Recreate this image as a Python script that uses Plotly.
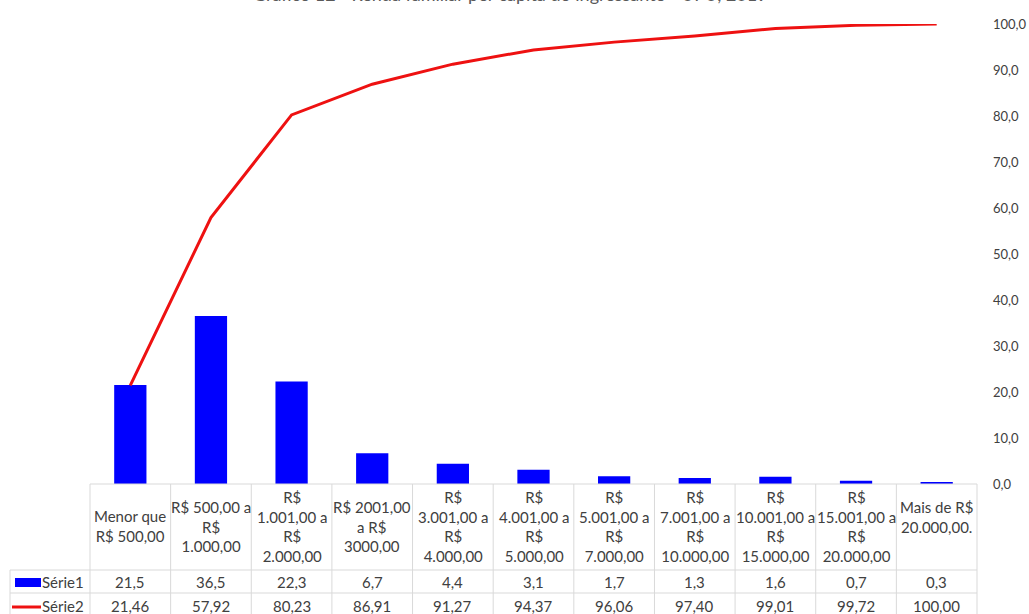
import plotly.graph_objects as go

categories = [
    "Menor que<br>R$ 500,00",
    "R$ 500,00 a<br>R$<br>1.000,00",
    "R$<br>1.001,00 a<br>R$<br>2.000,00",
    "R$ 2001,00<br>a R$<br>3000,00",
    "R$<br>3.001,00 a<br>R$<br>4.000,00",
    "R$<br>4.001,00 a<br>R$<br>5.000,00",
    "R$<br>5.001,00 a<br>R$<br>7.000,00",
    "R$<br>7.001,00 a<br>R$<br>10.000,00",
    "R$<br>10.001,00 a<br>R$<br>15.000,00",
    "R$<br>15.001,00 a<br>R$<br>20.000,00",
    "Mais de R$<br>20.000,00.<br> ",
]
serie1 = [21.5, 36.5, 22.3, 6.7, 4.4, 3.1, 1.7, 1.3, 1.6, 0.7, 0.3]
serie2 = [21.46, 57.92, 80.23, 86.91, 91.27, 94.37, 96.06, 97.40, 99.01, 99.72, 100.00]
series_names = ["Série1", "Série2"]
title_text = "Gráfico 12 - Renda familiar per capita do ingressante - UFU, 2019"

W, H = 1029, 614
L, R, T, B = 90, 52, 24, 130
PH = H - T - B  # plot height
PW = W - L - R
BOTTOM = H - B

def py(p):
    return (BOTTOM - p) / PH

def px(p):
    return (p - L) / PW

FONT = "Lato"
TXT = "#404040"
GRID = "#d9d9d9"
BLUE = "#0000ff"
RED = "#ee1111"
FS = 15

n = len(categories)
xs = list(range(n))

fig = go.Figure()
fig.add_trace(go.Bar(x=xs, y=serie1, width=0.4, marker=dict(color=BLUE, line=dict(width=0)),
                     name=series_names[0]))
fig.add_trace(go.Scatter(x=xs, y=serie2, mode="lines", line=dict(color=RED, width=3),
                         name=series_names[1]))

annotations = []
shapes = []

# title (partly cut at top as in reference)
annotations.append(dict(text=title_text, xref="paper", yref="paper", x=px(510), y=py(-6),
                        xanchor="center", yanchor="middle", showarrow=False,
                        font=dict(family=FONT, size=18, color="#595959")))

n_cols = n
hdr_top, hdr_bot, r1_bot, r2_bot = BOTTOM, 570, 593, 617
for i, cat in enumerate(categories):
    xc = (i + 0.5) / n_cols
    annotations.append(dict(text=cat, xref="paper", yref="paper", x=xc, y=py((hdr_top + hdr_bot) / 2 - 1),
                            xanchor="center", yanchor="middle", showarrow=False,
                            font=dict(family=FONT, size=FS, color=TXT)))
    annotations.append(dict(text=f"{serie1[i]:.1f}".replace(".", ","), xref="paper", yref="paper", x=xc,
                            y=py((hdr_bot + r1_bot) / 2), xanchor="center", yanchor="middle", showarrow=False,
                            font=dict(family=FONT, size=FS, color=TXT)))
    annotations.append(dict(text=f"{serie2[i]:.2f}".replace(".", ","), xref="paper", yref="paper", x=xc,
                            y=py((r1_bot + r2_bot) / 2 + 1), xanchor="center", yanchor="middle", showarrow=False,
                            font=dict(family=FONT, size=FS, color=TXT)))

# row labels
for name, yc in [(series_names[0], (hdr_bot + r1_bot) / 2), (series_names[1], (r1_bot + r2_bot) / 2 + 1)]:
    annotations.append(dict(text=name, xref="paper", yref="paper", x=px(40), y=py(yc),
                            xanchor="left", yanchor="middle", showarrow=False,
                            font=dict(family=FONT, size=FS, color=TXT)))

# table lines
for i in range(n_cols + 1):
    shapes.append(dict(type="line", xref="paper", yref="paper", x0=i / n_cols, x1=i / n_cols,
                       y0=py(hdr_top), y1=py(r2_bot + 5), line=dict(color=GRID, width=1)))
shapes.append(dict(type="line", xref="paper", yref="paper", x0=0, x1=1, y0=py(hdr_top), y1=py(hdr_top),
                   line=dict(color=GRID, width=1)))
for yy in [hdr_bot, r1_bot, r2_bot]:
    shapes.append(dict(type="line", xref="paper", yref="paper", x0=px(10), x1=1, y0=py(yy), y1=py(yy),
                       line=dict(color=GRID, width=1)))
shapes.append(dict(type="line", xref="paper", yref="paper", x0=px(10), x1=px(10), y0=py(hdr_bot),
                   y1=py(r2_bot + 5), line=dict(color=GRID, width=1)))

# legend keys
shapes.append(dict(type="rect", xref="paper", yref="paper", x0=px(15), x1=px(41), y0=py(578), y1=py(587),
                   fillcolor=BLUE, line=dict(width=0)))
shapes.append(dict(type="line", xref="paper", yref="paper", x0=px(12), x1=px(41), y0=py(607), y1=py(607),
                   line=dict(color=RED, width=3)))

fig.update_layout(
    width=W, height=H,
    margin=dict(l=L, r=R, t=T, b=B, autoexpand=False),
    paper_bgcolor="white", plot_bgcolor="white",
    showlegend=False,
    separators=",.",
    bargap=0.6,
    xaxis=dict(range=[-0.5, n - 0.5], showticklabels=False, showgrid=False, zeroline=False,
               showline=False, ticks="", automargin=False),
    yaxis=dict(side="right", range=[0, 100], dtick=10, tickformat=".1f", showgrid=False,
               zeroline=False, showline=False, ticks="", ticklabelstandoff=15, automargin=False,
               tickfont=dict(family=FONT, size=13, color=TXT)),
    annotations=annotations,
    shapes=shapes,
)

fig.write_html("out.html")
